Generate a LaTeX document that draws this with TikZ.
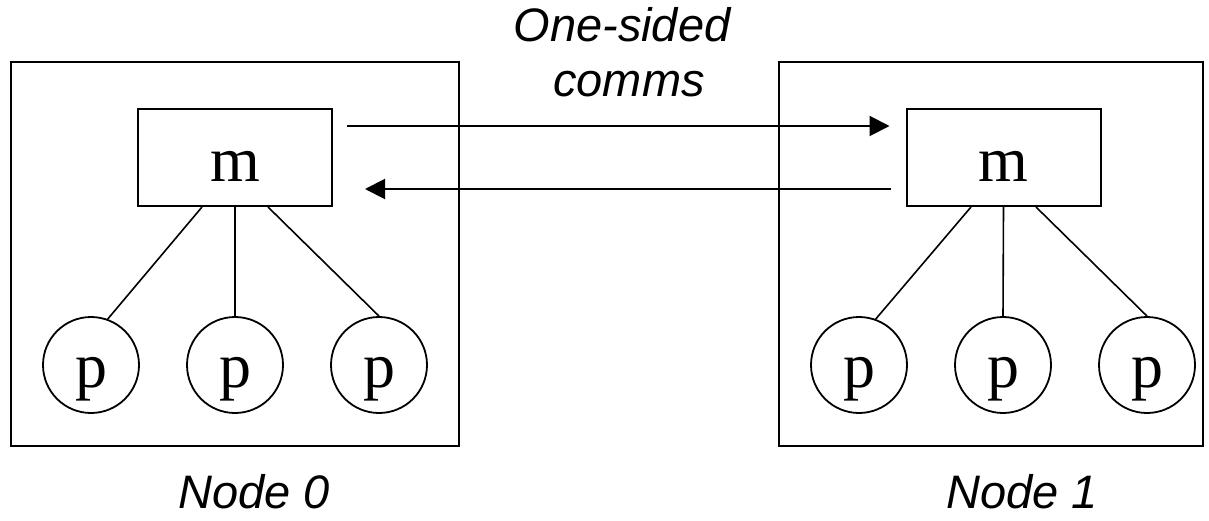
\documentclass[tikz,border=0pt]{standalone}
\usepackage{fontspec}
\setmainfont{Liberation Serif}
\newfontfamily\labelsans{Liberation Sans}
\usetikzlibrary{arrows.meta}

\begin{document}
\begin{tikzpicture}[x=1pt,y=-1pt,
  hostbox/.style={draw,line width=2.2pt,inner sep=0pt},
  membox/.style={draw,line width=2pt,inner sep=0pt,minimum width=194pt,minimum height=97pt,
    font=\fontsize{64}{64}\selectfont,text height=49pt,text depth=0pt},
  proc/.style={draw,circle,line width=1.8pt,inner sep=0pt,minimum size=96pt,
    font=\fontsize{64}{64}\selectfont,text height=44pt,text depth=0pt},
  link/.style={line width=1.6pt},
  comm/.style={line width=2pt,-{Triangle[length=20pt,width=20pt]}},
  caption/.style={font=\labelsans\itshape\fontsize{47}{56}\selectfont,anchor=base,inner sep=0pt}
]
\useasboundingbox (0,0) rectangle (1209,521);

% the two hosts
\node[hostbox,minimum width=448pt,minimum height=384pt] (h0) at (235,254) {};
\node[hostbox,minimum width=424pt,minimum height=384pt] (h1) at (991,254) {};

% memory of each host
\node[membox] (m0) at (235,157.5) {m};
\node[membox] (m1) at (1003.5,157.5) {m};

% processes of host 0
\node[proc] (p00) at (91,365) {p};
\node[proc] (p01) at (235,365) {p};
\node[proc] (p02) at (379,365) {p};

% processes of host 1
\node[proc] (p10) at (859,365) {p};
\node[proc] (p11) at (1003,365) {p};
\node[proc] (p12) at (1147,365) {p};

% memory to process links
\draw[link] ([xshift=-33pt]m0.south) -- (p00.70);
\draw[link] (m0.south) -- (p01.north);
\draw[link] ([xshift=33pt]m0.south) -- (p02.north);
\draw[link] ([xshift=-32.5pt]m1.south) -- (p10.70);
\draw[link] (m1.south) -- (p11.north);
\draw[link] ([xshift=32.5pt]m1.south) -- (p12.north);

% one-sided traffic between the memories
\draw[comm,shorten <=14pt,shorten >=16pt] ([yshift=31.5pt]m0.east) -- ([yshift=31.5pt]m1.west);
\draw[comm,shorten <=15pt,shorten >=32pt] ([yshift=-31.5pt]m1.west) -- ([yshift=-31.5pt]m0.east);

% captions
\node[caption] (c1) at (622,42) {One-sided};
\node[caption] (c2) at (629,97) {comms};
\node[caption] (l0) at (254,508) {Node 0};
\node[caption] (l1) at (1022,508) {Node 1};
\end{tikzpicture}
\end{document}
